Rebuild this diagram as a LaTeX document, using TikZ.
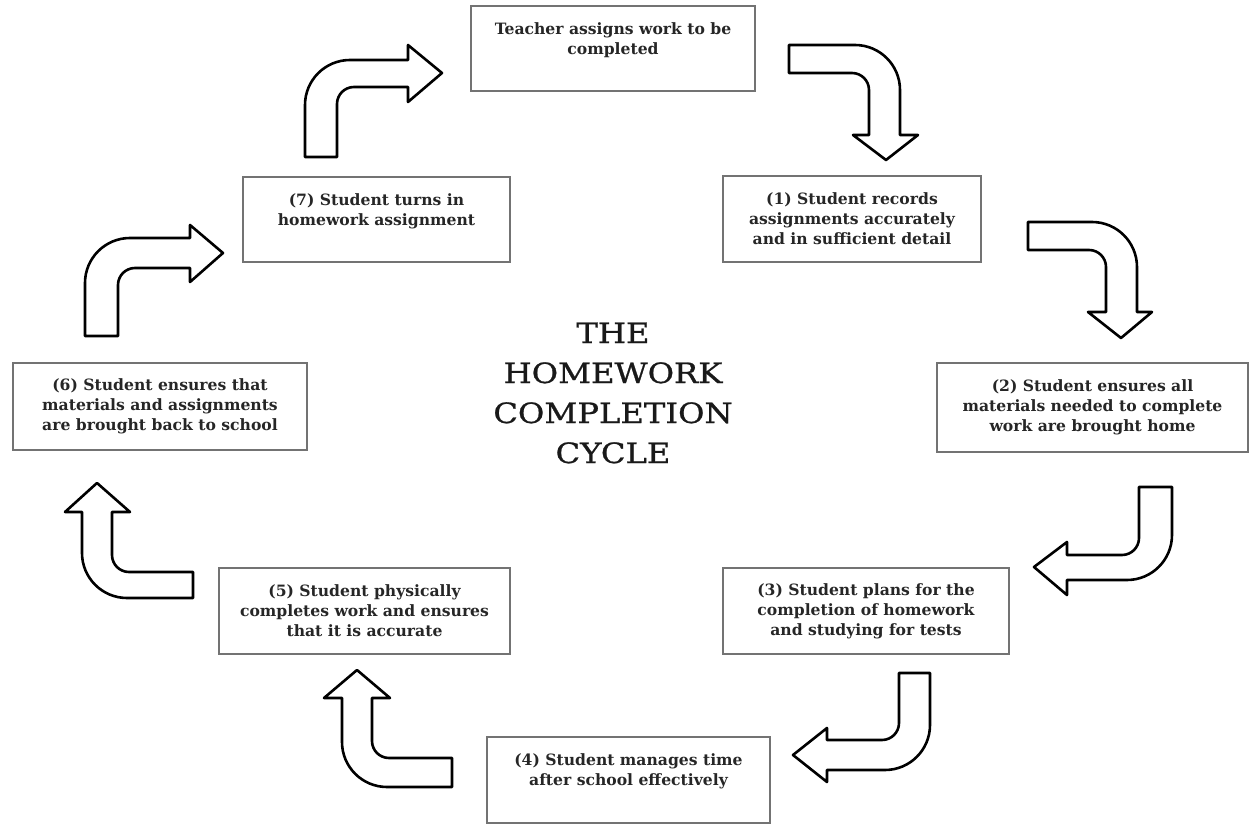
\documentclass[tikz,border=0pt]{standalone}
\usepackage{fontspec}
\setmainfont{DejaVu Serif}
\newfontfamily\titlefam{DejaVu Serif}[FakeStretch=1.15,FakeBold=0.9]
\begin{document}
\begin{tikzpicture}[x=1pt,y=-1pt,
  box/.style={draw=black!55, line width=1.8pt, align=center, inner sep=0pt,
    font=\fontsize{15.6}{20}\selectfont\bfseries, text=black!85},
  titletext/.style={align=center, inner sep=0pt, font=\titlefam\fontsize{28}{40}\selectfont, text=black!90},
  blockarrow/.style={draw=black, line width=2.6pt, line join=round, fill=white}]
\useasboundingbox (0,0) rectangle (1254,826);

% boxes
\node[box, minimum width=284, minimum height=85] (t) at (613,48.5)
  {Teacher assigns work to be\\completed\\\mbox{}};
\node[box, minimum width=258, minimum height=86] (s1) at (852,219)
  {(1) Student records\\assignments accurately\\and in sufficient detail};
\node[box, minimum width=311, minimum height=89] (s2) at (1092.5,407.5)
  {(2) Student ensures all\\materials needed to complete\\work are brought home};
\node[box, minimum width=286, minimum height=86] (s3) at (866,611)
  {(3) Student plans for the\\completion of homework\\and studying for tests};
\node[box, minimum width=283, minimum height=86] (s4) at (628.5,780)
  {(4) Student manages time\\after school effectively\\\mbox{}};
\node[box, minimum width=291, minimum height=86] (s5) at (364.5,611)
  {(5) Student physically\\completes work and ensures\\that it is accurate};
\node[box, minimum width=294, minimum height=87] (s6) at (160,406.5)
  {(6) Student ensures that\\materials and assignments\\are brought back to school};
\node[box, minimum width=267, minimum height=85] (s7) at (376.5,219.5)
  {(7) Student turns in\\homework assignment\\\mbox{}};

% title
\node[titletext] (title) at (613,393) {THE\\HOMEWORK\\COMPLETION\\CYCLE};

% block arrows
% teacher -> (1)
\draw[blockarrow] (789,45) -- (855,45) .. controls (879.85,45) and (900,65.15) .. (900,90)
  -- (900,135) -- (918,135) -- (886,160) -- (853,135) -- (869,135) -- (869,90)
  .. controls (869,80.61) and (861.39,73) .. (852,73) -- (789,73) -- cycle;
% (1) -> (2)
\draw[blockarrow] (1028,222) -- (1092,222) .. controls (1116.85,222) and (1137,242.15) .. (1137,267)
  -- (1137,312) -- (1152,312) -- (1121,338) -- (1088,312) -- (1106,312) -- (1106,267)
  .. controls (1106,257.61) and (1098.39,250) .. (1089,250) -- (1028,250) -- cycle;
% (2) -> (3)
\draw[blockarrow] (1139,487) -- (1172,487) -- (1172,535) .. controls (1172,559.85) and (1151.85,580) .. (1127,580)
  -- (1067,580) -- (1067,595) -- (1034,567) -- (1067,542) -- (1067,555) -- (1122,555)
  .. controls (1131.39,555) and (1139,547.39) .. (1139,538) -- cycle;
% (3) -> (4)
\draw[blockarrow] (899,673) -- (930,673) -- (930,725) .. controls (930,749.85) and (909.85,770) .. (885,770)
  -- (827,770) -- (827,782) -- (793,755) -- (827,728) -- (827,740) -- (882,740)
  .. controls (891.39,740) and (899,732.39) .. (899,723) -- cycle;
% (4) -> (5)
\draw[blockarrow] (452,758) -- (452,787) -- (387,787) .. controls (362.15,787) and (342,766.85) .. (342,742)
  -- (342,698) -- (324,698) -- (357,670) -- (390,698) -- (372,698) -- (372,741)
  .. controls (372,750.39) and (379.61,758) .. (389,758) -- cycle;
% (5) -> (6)
\draw[blockarrow] (193,572) -- (193,598) -- (127,598) .. controls (102.15,598) and (82,577.85) .. (82,553)
  -- (82,512) -- (65,512) -- (97,483) -- (130,512) -- (112,512) -- (112,555)
  .. controls (112,564.39) and (119.61,572) .. (129,572) -- cycle;
% (6) -> (7)
\draw[blockarrow] (85,336) -- (85,283) .. controls (85,258.15) and (105.15,238) .. (130,238)
  -- (190,238) -- (190,225) -- (223,253) -- (190,282) -- (190,268) -- (135,268)
  .. controls (125.61,268) and (118,275.61) .. (118,285) -- (118,336) -- cycle;
% (7) -> teacher
\draw[blockarrow] (305,157) -- (305,105) .. controls (305,80.15) and (325.15,60) .. (350,60)
  -- (408,60) -- (408,45) -- (442,73) -- (408,102) -- (408,87) -- (354,87)
  .. controls (344.61,87) and (337,94.61) .. (337,104) -- (337,157) -- cycle;
\end{tikzpicture}
\end{document}
